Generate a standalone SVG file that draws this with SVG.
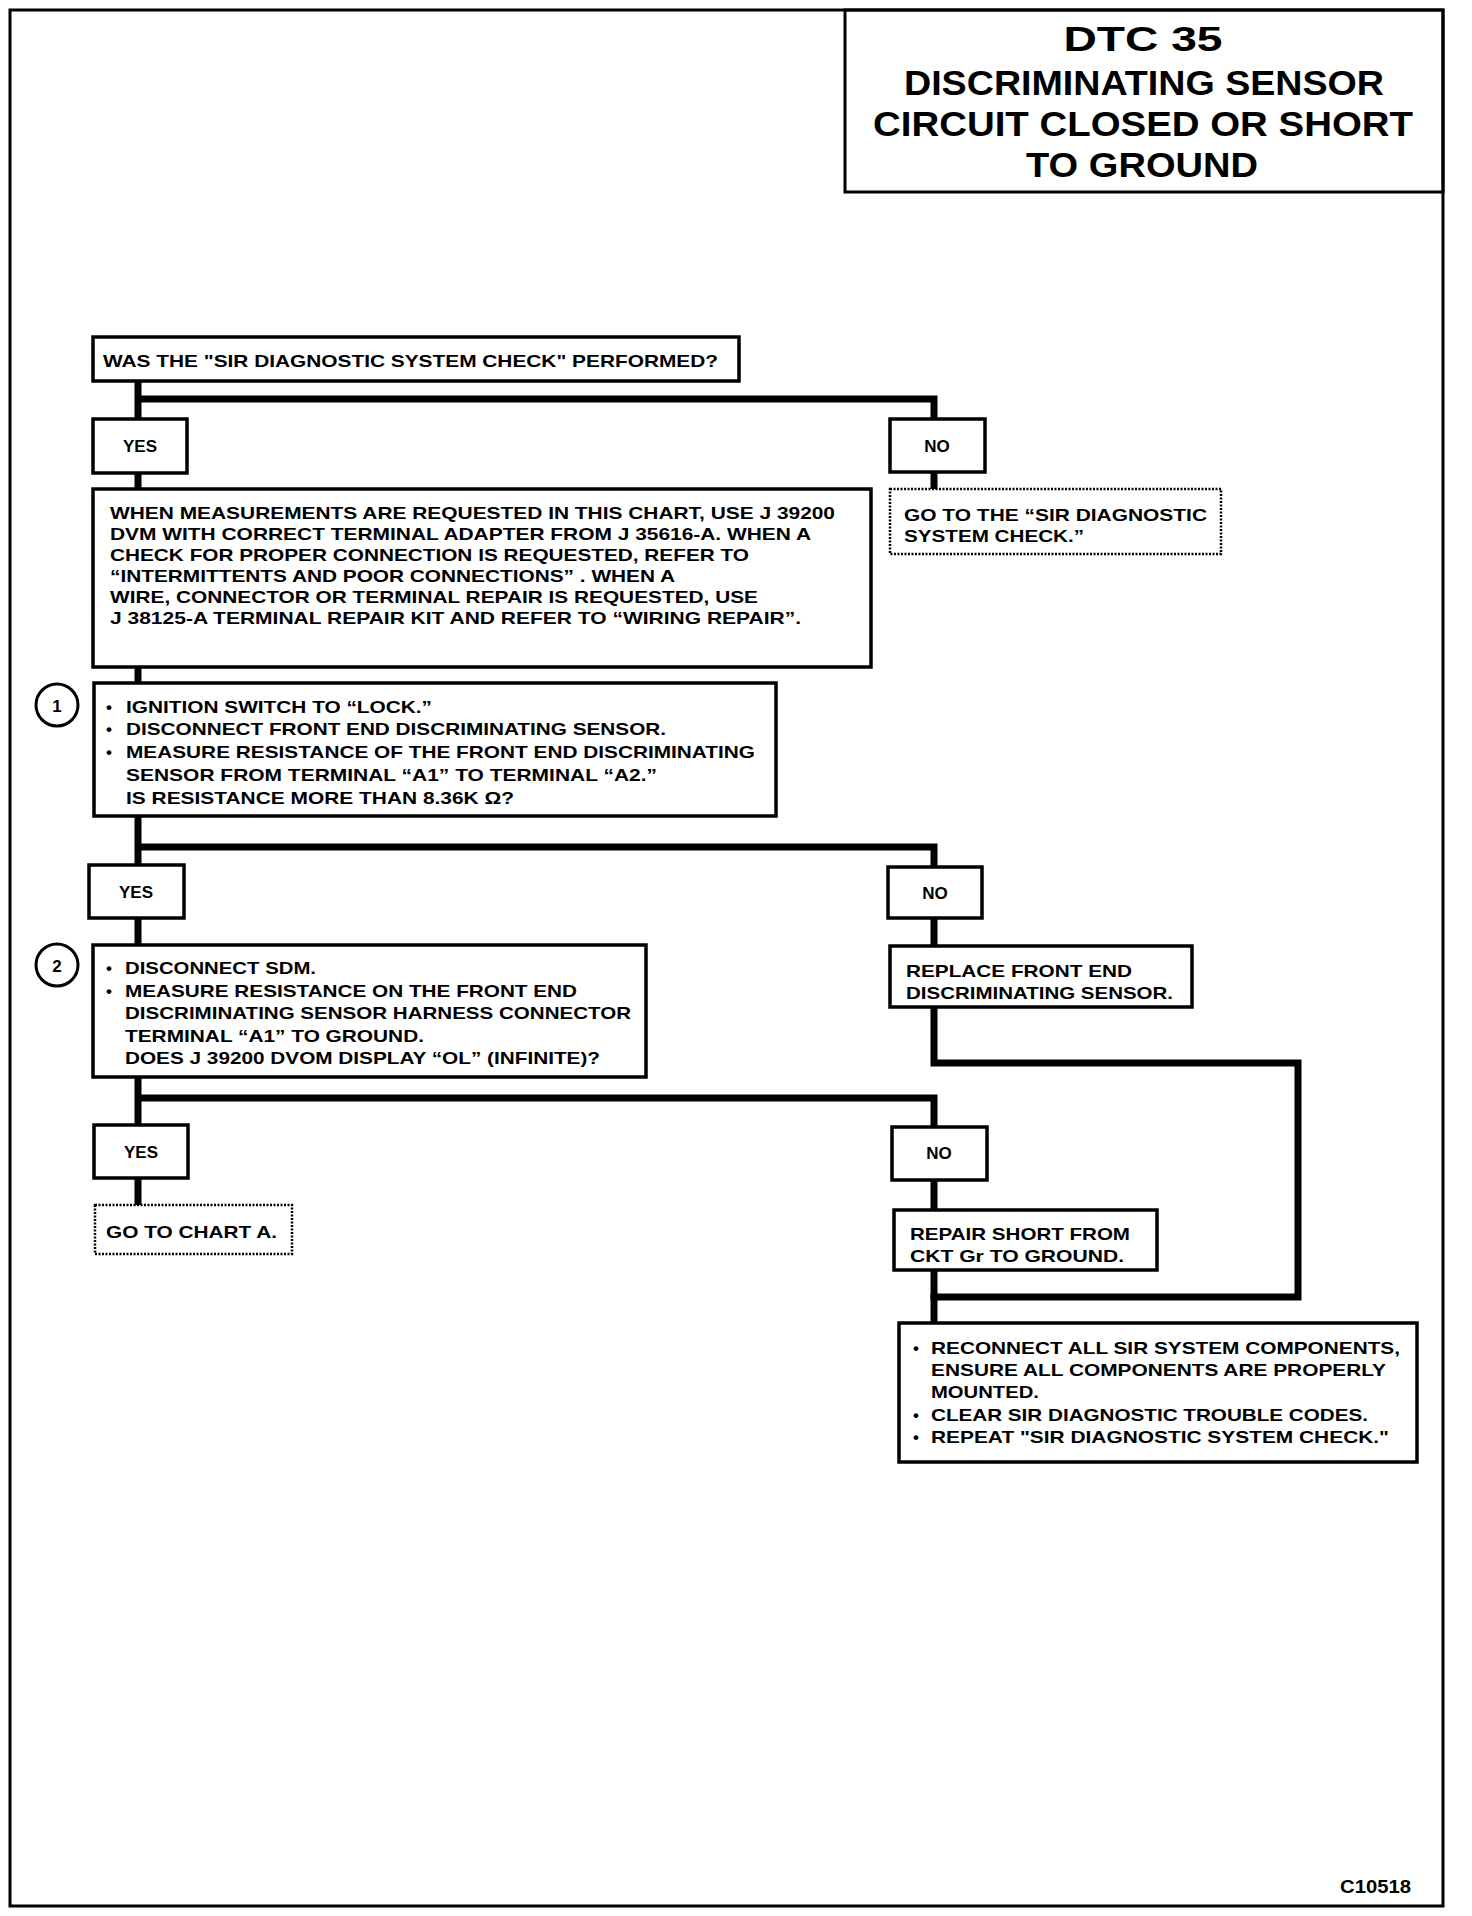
<svg xmlns="http://www.w3.org/2000/svg" width="1472" height="1916" viewBox="0 0 1472 1916">
<style>
.frame{fill:none;stroke:#000;stroke-width:3}
.box{fill:#fff;stroke:#000;stroke-width:3.5}
.dot{fill:#fff;stroke:#000;stroke-width:2.5;stroke-dasharray:2 1.5}
.conn{fill:none;stroke:#000;stroke-width:7;stroke-linejoin:miter;stroke-linecap:square}
.circ{fill:#fff;stroke:#000;stroke-width:3}
text{font-family:"Liberation Sans",Arial,sans-serif;font-weight:bold;fill:#000}
.t{font-size:17px}
.c{font-size:17px;text-anchor:middle}
.ttl{font-size:35px;text-anchor:middle}
</style>
<rect width="1472" height="1916" fill="#fff"/>
<rect class="frame" x="10" y="10" width="1433" height="1896"/>

<g id="connectors">
<path class="conn" d="M138,381 V419 M138,399 H934 V419"/>
<path class="conn" d="M138,473 V489 M934,472 V489"/>
<path class="conn" d="M138,667 V683"/>
<path class="conn" d="M138,816 V865 M138,847 H934 V867"/>
<path class="conn" d="M138,918 V945 M934,918 V946"/>
<path class="conn" d="M934,1007 V1063 H1298 V1297 H934"/>
<path class="conn" d="M138,1077 V1125 M138,1098 H934 V1127"/>
<path class="conn" d="M138,1178 V1205 M934,1180 V1210"/>
<path class="conn" d="M934,1270 V1323"/>
</g>

<g id="title">
<rect class="frame" x="845" y="10" width="598" height="182"/>
<text class="ttl" x="1143" y="51" font-size="40" textLength="159" lengthAdjust="spacingAndGlyphs">DTC 35</text>
<text class="ttl" x="1144" y="95" textLength="480" lengthAdjust="spacingAndGlyphs">DISCRIMINATING SENSOR</text>
<text class="ttl" x="1143" y="136" textLength="540" lengthAdjust="spacingAndGlyphs">CIRCUIT CLOSED OR SHORT</text>
<text class="ttl" x="1142" y="177" textLength="232" lengthAdjust="spacingAndGlyphs">TO GROUND</text>
</g>

<g id="q-check">
<rect class="box" x="93" y="337" width="646" height="44"/>
<text class="t" x="103" y="367" textLength="615" lengthAdjust="spacingAndGlyphs">WAS THE "SIR DIAGNOSTIC SYSTEM CHECK" PERFORMED?</text>
</g>

<g id="yes1">
<rect class="box" x="93" y="419" width="94" height="54"/>
<text class="c" x="140" y="452">YES</text>
</g>

<g id="no1">
<rect class="box" x="890" y="419" width="95" height="53"/>
<text class="c" x="937" y="452">NO</text>
</g>

<g id="note-measurements">
<rect class="box" x="93" y="489" width="778" height="178"/>
<text class="t" x="110" y="519" textLength="725" lengthAdjust="spacingAndGlyphs">WHEN MEASUREMENTS ARE REQUESTED IN THIS CHART, USE J 39200</text>
<text class="t" x="110" y="540" textLength="701" lengthAdjust="spacingAndGlyphs">DVM WITH CORRECT TERMINAL ADAPTER FROM J 35616-A. WHEN A</text>
<text class="t" x="110" y="561" textLength="639" lengthAdjust="spacingAndGlyphs">CHECK FOR PROPER CONNECTION IS REQUESTED, REFER TO</text>
<text class="t" x="110" y="582" textLength="565" lengthAdjust="spacingAndGlyphs">“INTERMITTENTS AND POOR CONNECTIONS” . WHEN A</text>
<text class="t" x="110" y="603" textLength="648" lengthAdjust="spacingAndGlyphs">WIRE, CONNECTOR OR TERMINAL REPAIR IS REQUESTED, USE</text>
<text class="t" x="110" y="624" textLength="691" lengthAdjust="spacingAndGlyphs">J 38125-A TERMINAL REPAIR KIT AND REFER TO “WIRING REPAIR”.</text>
</g>

<g id="goto-sir">
<rect class="dot" x="890" y="489" width="331" height="65"/>
<text class="t" x="904" y="521" textLength="303" lengthAdjust="spacingAndGlyphs">GO TO THE “SIR DIAGNOSTIC</text>
<text class="t" x="904" y="542" textLength="180" lengthAdjust="spacingAndGlyphs">SYSTEM CHECK.”</text>
</g>

<g id="step1">
<circle class="circ" cx="57" cy="705" r="21"/>
<text class="c" x="57" y="712" font-size="19">1</text>
<rect class="box" x="94" y="683" width="682" height="133"/>
<text class="t" x="106" y="713">•</text>
<text class="t" x="126" y="713" textLength="306" lengthAdjust="spacingAndGlyphs">IGNITION SWITCH TO “LOCK.”</text>
<text class="t" x="106" y="735">•</text>
<text class="t" x="126" y="735" textLength="540" lengthAdjust="spacingAndGlyphs">DISCONNECT FRONT END DISCRIMINATING SENSOR.</text>
<text class="t" x="106" y="758">•</text>
<text class="t" x="126" y="758" textLength="629" lengthAdjust="spacingAndGlyphs">MEASURE RESISTANCE OF THE FRONT END DISCRIMINATING</text>
<text class="t" x="126" y="781" textLength="531" lengthAdjust="spacingAndGlyphs">SENSOR FROM TERMINAL “A1” TO TERMINAL “A2.”</text>
<text class="t" x="126" y="804" textLength="388" lengthAdjust="spacingAndGlyphs">IS RESISTANCE MORE THAN 8.36K Ω?</text>
</g>

<g id="yes2">
<rect class="box" x="89" y="865" width="95" height="53"/>
<text class="c" x="136" y="898">YES</text>
</g>

<g id="no2">
<rect class="box" x="888" y="867" width="94" height="51"/>
<text class="c" x="935" y="899">NO</text>
</g>

<g id="step2">
<circle class="circ" cx="57" cy="965" r="21"/>
<text class="c" x="57" y="972" font-size="19">2</text>
<rect class="box" x="93" y="945" width="553" height="132"/>
<text class="t" x="106" y="974">•</text>
<text class="t" x="125" y="974" textLength="191" lengthAdjust="spacingAndGlyphs">DISCONNECT SDM.</text>
<text class="t" x="106" y="997">•</text>
<text class="t" x="125" y="997" textLength="452" lengthAdjust="spacingAndGlyphs">MEASURE RESISTANCE ON THE FRONT END</text>
<text class="t" x="125" y="1019" textLength="506" lengthAdjust="spacingAndGlyphs">DISCRIMINATING SENSOR HARNESS CONNECTOR</text>
<text class="t" x="125" y="1042" textLength="299" lengthAdjust="spacingAndGlyphs">TERMINAL “A1” TO GROUND.</text>
<text class="t" x="125" y="1064" textLength="475" lengthAdjust="spacingAndGlyphs">DOES J 39200 DVOM DISPLAY “OL” (INFINITE)?</text>
</g>

<g id="replace-sensor">
<rect class="box" x="890" y="946" width="302" height="61"/>
<text class="t" x="906" y="977" textLength="226" lengthAdjust="spacingAndGlyphs">REPLACE FRONT END</text>
<text class="t" x="906" y="999" textLength="267" lengthAdjust="spacingAndGlyphs">DISCRIMINATING SENSOR.</text>
</g>

<g id="yes3">
<rect class="box" x="94" y="1125" width="94" height="53"/>
<text class="c" x="141" y="1158">YES</text>
</g>

<g id="no3">
<rect class="box" x="892" y="1127" width="95" height="53"/>
<text class="c" x="939" y="1159">NO</text>
</g>

<g id="goto-chart-a">
<rect class="dot" x="95" y="1205" width="197" height="49"/>
<text class="t" x="106" y="1238" textLength="171" lengthAdjust="spacingAndGlyphs">GO TO CHART A.</text>
</g>

<g id="repair-short">
<rect class="box" x="894" y="1210" width="263" height="60"/>
<text class="t" x="910" y="1240" textLength="220" lengthAdjust="spacingAndGlyphs">REPAIR SHORT FROM</text>
<text class="t" x="910" y="1262" textLength="214" lengthAdjust="spacingAndGlyphs">CKT Gr TO GROUND.</text>
</g>

<g id="reconnect">
<rect class="box" x="899" y="1323" width="518" height="139"/>
<text class="t" x="913" y="1354">•</text>
<text class="t" x="931" y="1354" textLength="469" lengthAdjust="spacingAndGlyphs">RECONNECT ALL SIR SYSTEM COMPONENTS,</text>
<text class="t" x="931" y="1376" textLength="455" lengthAdjust="spacingAndGlyphs">ENSURE ALL COMPONENTS ARE PROPERLY</text>
<text class="t" x="931" y="1398" textLength="108" lengthAdjust="spacingAndGlyphs">MOUNTED.</text>
<text class="t" x="913" y="1421">•</text>
<text class="t" x="931" y="1421" textLength="437" lengthAdjust="spacingAndGlyphs">CLEAR SIR DIAGNOSTIC TROUBLE CODES.</text>
<text class="t" x="913" y="1443">•</text>
<text class="t" x="931" y="1443" textLength="458" lengthAdjust="spacingAndGlyphs">REPEAT "SIR DIAGNOSTIC SYSTEM CHECK."</text>
</g>

<text x="1340" y="1893" font-size="19" textLength="71" lengthAdjust="spacingAndGlyphs">C10518</text>
</svg>
